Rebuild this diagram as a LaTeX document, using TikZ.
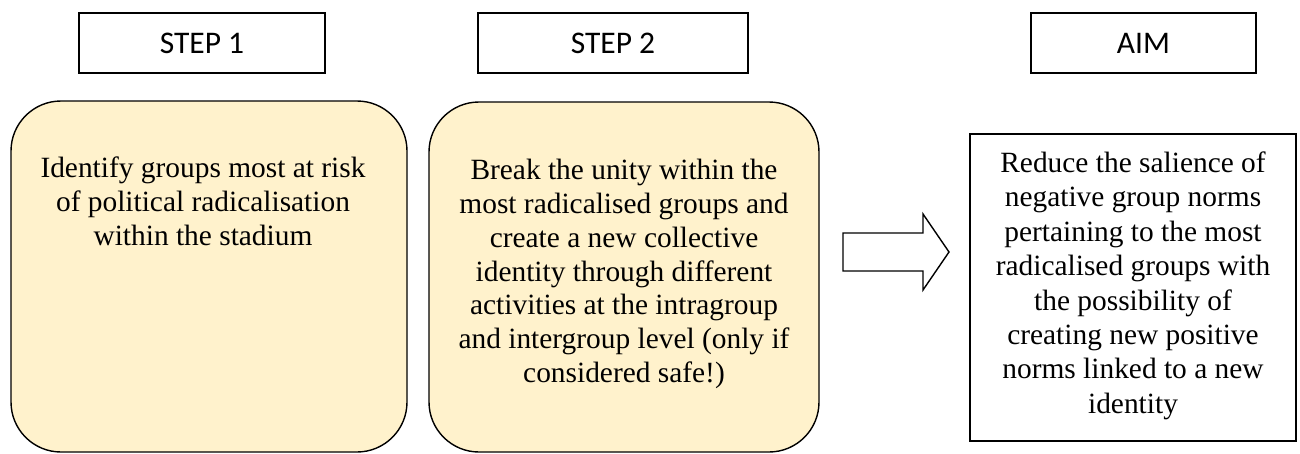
\documentclass[tikz,border=0pt]{standalone}
\usepackage{fontspec}
\setmainfont{Liberation Serif}
\newfontfamily\labelfont{Carlito}
\definecolor{boxfill}{HTML}{FFF2CC}
\begin{document}
\begin{tikzpicture}[x=1pt,y=-1pt,
  lblbox/.style={draw=black, line width=1.3pt, minimum height=60pt, inner sep=0pt,
    font=\labelfont\fontsize{31.5}{36}\selectfont},
  roundbox/.style={draw=black, fill=boxfill, line width=1.4pt, rounded corners=50pt, inner sep=0pt},
  aimbox/.style={draw=black, fill=white, line width=1.8pt, inner sep=0pt},
  bodytext/.style={align=center, inner sep=0pt, anchor=north,
    font=\fontsize{29.4}{33.8}\selectfont},
  arrowshape/.style={draw=black, fill=white, line width=1.4pt, line join=miter}
]
\useasboundingbox (0,0) rectangle (1300,453);

% header labels
\node[lblbox, minimum width=246pt] (l1) at (202,43) {STEP 1};
\node[lblbox, minimum width=270pt] (l2) at (613,43) {STEP 2};
\node[lblbox, minimum width=225pt] (l3) at (1143.5,43) {AIM};

% step boxes
\node[roundbox, minimum width=396pt, minimum height=351pt] (s1) at (209,276.5) {};
\node[roundbox, minimum width=390pt, minimum height=350pt] (s2) at (624,277) {};
\node[aimbox, minimum width=326pt, minimum height=307pt] (aim) at (1133,287.5) {};

% texts
\node[bodytext] (t1) at (203,157) {Identify groups most at risk\\of political radicalisation\\within the stadium};
\node[bodytext] (t2) at (624,159) {Break the unity within the\\most radicalised groups and\\create a new collective\\identity through different\\activities at the intragroup\\and intergroup level (only if\\considered safe!)};
\node[bodytext, font=\fontsize{29.4}{34.4}\selectfont] (t3) at (1133,151.5) {Reduce the salience of\\negative group norms\\pertaining to the most\\radicalised groups with\\the possibility of\\creating new positive\\norms linked to a new\\identity};

% block arrow between step 2 and aim
\coordinate (arrowtail) at (843,252);
\coordinate (arrowtip) at (949,252);
\draw[arrowshape] (arrowtail |- 0,233) -- (923,233) -- (923,214) -- (arrowtip)
  -- (923,290) -- (923,271) -- (arrowtail |- 0,271) -- cycle;
\end{tikzpicture}
\end{document}
